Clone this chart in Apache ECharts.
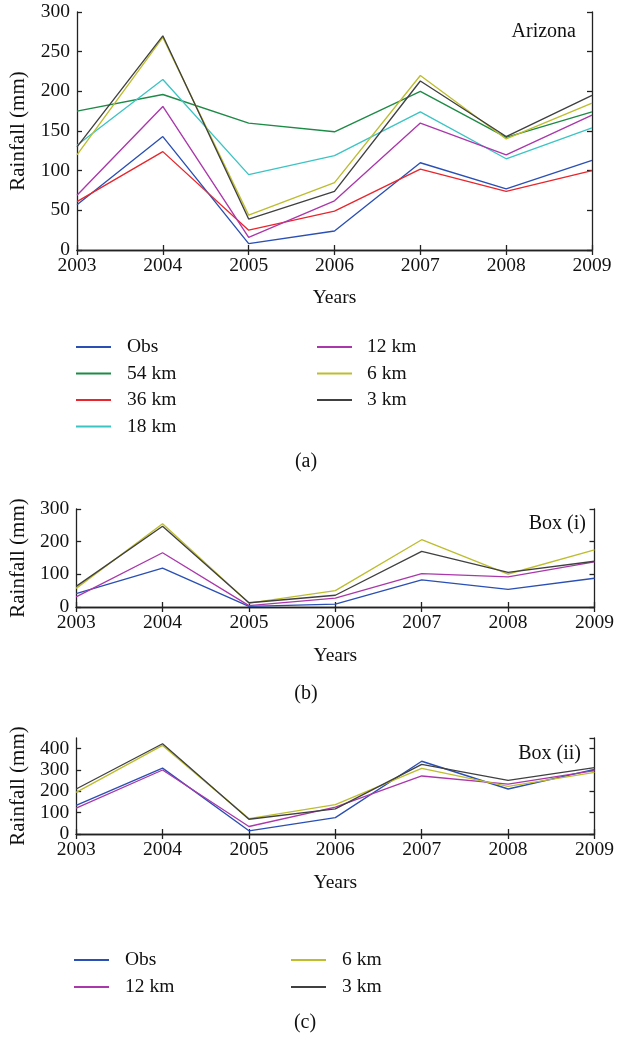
<!DOCTYPE html>
<html>
<head>
<meta charset="utf-8">
<script src="https://cdn.jsdelivr.net/npm/echarts@6/dist/echarts.min.js"></script>
<style>
html,body{margin:0;padding:0;background:#fff;}
#main{width:617px;height:1040px;}
</style>
</head>
<body>
<div id="main"></div>
<script>
// ---- data ----
var years = ['2003', '2004', '2005', '2006', '2007', '2008', '2009'];

// Panel (a) Arizona
var obsA  = [57, 143, 8, 24, 110, 77, 113];
var km54A = [175, 196, 160, 149, 200, 142, 174];
var km36A = [61, 124, 25, 49, 102, 74, 100];
var km18A = [132, 215, 95, 119, 174, 115, 154];
var km12A = [69, 181, 16, 62, 160, 120, 170];
var km6A  = [120, 268, 44, 85, 220, 140, 185];
var km3A  = [130, 270, 39, 74, 213, 143, 195];

// Panel (b) Box (i)
var obsB  = [41, 119, 2, 9, 83, 54, 88];
var km12B = [31, 166, 4, 27, 102, 92, 138];
var km6B  = [57, 255, 12, 50, 206, 101, 175];
var km3B  = [63, 247, 13, 36, 170, 106, 140];

// Panel (c) Box (ii)
var obsC  = [134, 309, 15, 77, 341, 211, 303];
var km12C = [121, 300, 35, 126, 272, 234, 297];
var km6C  = [195, 415, 72, 138, 308, 223, 289];
var km3C  = [211, 423, 69, 118, 326, 251, 311];

var yTicksA = [0, 300, 50];
var yTicksB = [0, 300, 100];
var yTicksC = [0, 450, 100];

// ---- styles ----
var FONT = '"Liberation Serif", "Times New Roman", serif';
var COL = {
  'Obs': '#2a4fb5',
  '54 km': '#1d8a46',
  '36 km': '#e8262b',
  '18 km': '#3cc4c4',
  '12 km': '#aa38aa',
  '6 km': '#bdbd2e',
  '3 km': '#404040'
};
var AX = '#222';

var grids = [
  {left: 76, right: 25, top: 12, height: 238},
  {left: 73, right: 22, top: 509, height: 98},
  {left: 73, right: 22, top: 738, height: 96}
];

function xAxes(i, gap) {
  return [
    {
      type: 'category', gridIndex: i, data: years, boundaryGap: false,
      axisLine: {lineStyle: {color: AX, width: 1.3}},
      axisTick: {inside: true, length: 5, lineStyle: {color: AX, width: 1.3}},
      axisLabel: {color: '#111', fontFamily: FONT, fontSize: 19.5, margin: 6},
      splitLine: {show: false},
      name: 'Years', nameLocation: 'middle', nameGap: gap,
      nameTextStyle: {color: '#111', fontFamily: FONT, fontSize: 19.5}
    },
    {
      type: 'category', gridIndex: i, data: years, boundaryGap: false, position: 'top',
      axisLine: {lineStyle: {color: AX, width: 1.3}},
      axisTick: {inside: true, length: 5, lineStyle: {color: AX, width: 1.3}},
      axisLabel: {show: false}, splitLine: {show: false}
    }
  ];
}
function yAxes(i, t, gap, hideMax) {
  return [
    {
      type: 'value', gridIndex: i, min: t[0], max: t[1], interval: t[2],
      axisLine: {show: true, lineStyle: {color: AX, width: 1.3}},
      axisTick: {show: true, inside: true, length: 5, lineStyle: {color: AX, width: 1.3}},
      axisLabel: {color: '#111', fontFamily: FONT, fontSize: 19.5, margin: 7, showMaxLabel: hideMax ? false : true},
      splitLine: {show: false},
      name: 'Rainfall (mm)', nameLocation: 'middle', nameGap: gap,
      nameTextStyle: {color: '#111', fontFamily: FONT, fontSize: 21}
    },
    {
      type: 'value', gridIndex: i, min: t[0], max: t[1], interval: t[2], position: 'right',
      axisLine: {show: true, lineStyle: {color: AX, width: 1.3}},
      axisTick: {show: true, inside: true, length: 5, lineStyle: {color: AX, width: 1.3}},
      axisLabel: {show: false}, splitLine: {show: false}
    }
  ];
}

function line(name, data, gi) {
  return {
    type: 'line', name: name, data: data,
    xAxisIndex: gi * 2, yAxisIndex: gi * 2,
    symbol: 'none', smooth: false, silent: true,
    lineStyle: {color: COL[name], width: 1.35},
    itemStyle: {color: COL[name]},
    color: COL[name],
    animation: false
  };
}

function legend(names, left, top, gap, pad) {
  return {
    data: names, orient: 'vertical', left: left, top: top,
    itemWidth: 35, itemHeight: 2, icon: 'rect', itemGap: gap,
    selectedMode: false, padding: 0,
    textStyle: {color: '#111', fontFamily: FONT, fontSize: 19.5, lineHeight: 20, padding: [0, 0, 0, pad]}
  };
}

function txt(s, x, y, align) {
  return {
    type: 'text', x: x, y: y, silent: true,
    style: {text: s, font: '20px ' + FONT, fill: '#111', align: align, verticalAlign: 'middle'}
  };
}

var option = {
  backgroundColor: '#fff',
  animation: false,
  grid: grids,
  xAxis: [].concat(xAxes(0, 38), xAxes(1, 39), xAxes(2, 39)),
  yAxis: [].concat(yAxes(0, yTicksA, 48, false), yAxes(1, yTicksB, 47, false), yAxes(2, yTicksC, 47, true)),
  legend: [
    legend(['Obs', '54 km', '36 km', '18 km'], 76, 337, 6.5, 11),
    legend(['12 km', '6 km', '3 km'], 317, 337, 6.5, 10),
    legend(['Obs', '12 km'], 74, 950, 7, 11),
    legend(['6 km', '3 km'], 291, 950, 7, 11)
  ],
  series: [
    line('Obs', obsA, 0), line('54 km', km54A, 0), line('36 km', km36A, 0), line('18 km', km18A, 0),
    line('12 km', km12A, 0), line('6 km', km6A, 0), line('3 km', km3A, 0),
    line('Obs', obsB, 1), line('12 km', km12B, 1), line('6 km', km6B, 1), line('3 km', km3B, 1),
    line('Obs', obsC, 2), line('12 km', km12C, 2), line('6 km', km6C, 2), line('3 km', km3C, 2)
  ],
  graphic: [
    txt('Arizona', 576, 32, 'right'),
    txt('Box (i)', 586, 524, 'right'),
    txt('Box (ii)', 581, 754, 'right'),
    txt('(a)', 306, 462, 'center'),
    txt('(b)', 306, 694, 'center'),
    txt('(c)', 305, 1023, 'center')
  ]
};

var chart = echarts.init(document.getElementById('main'), null, {renderer: 'canvas'});
chart.setOption(option);
</script>
</body>
</html>
